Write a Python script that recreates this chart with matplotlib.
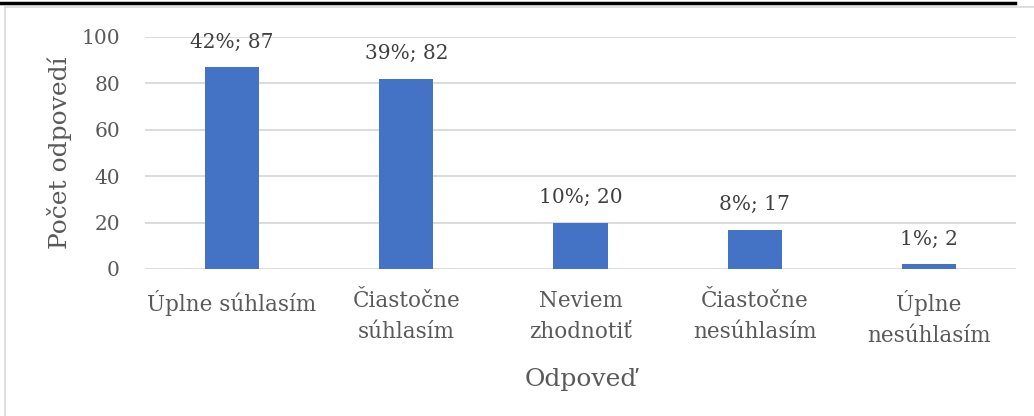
import matplotlib
matplotlib.use("Agg")
import matplotlib.pyplot as plt
from matplotlib.lines import Line2D

plt.rcParams["font.family"] = ["DejaVu Serif"]

categories = ["Úplne súhlasím", "Čiastočne\nsúhlasím", "Neviem\nzhodnotiť",
              "Čiastočne\nnesúhlasím", "Úplne\nnesúhlasím"]
counts = [87, 82, 20, 17, 2]
yticks = [0, 20, 40, 60, 80, 100]

total = sum(counts)
labels = [f"{round(c / total * 100)}%; {c}" for c in counts]

W, H = 1034, 416
fig = plt.figure(figsize=(W / 100, H / 100), dpi=100)
fig.patch.set_facecolor("white")

# ramik grafu + orezana ciara nadpisu
fig.add_artist(Line2D([5 / W, 5 / W], [0, 1 - 7 / H], color="#d9d9d9", lw=1.2))
fig.add_artist(Line2D([5 / W, 1], [1 - 7 / H, 1 - 7 / H], color="#d9d9d9", lw=1.2))
fig.add_artist(Line2D([0, 1015 / W], [1 - 3 / H, 1 - 3 / H], color="black", lw=2.5))

ax = fig.add_axes([145 / W, 1 - 269 / H, (1016 - 145) / W, 232 / H])
x = range(len(categories))
ax.bar(x, counts, width=0.31, color="#4472C4", zorder=3)

for i, (c, lab) in enumerate(zip(counts, labels)):
    ax.annotate(lab, (i, c), xytext=(0, 18), textcoords="offset points",
                ha="center", va="center", fontsize=14.5, color="#404040")

ax.set_xlim(-0.5, len(categories) - 0.5)
ax.set_ylim(0, 100)
ax.set_yticks(yticks)
ax.yaxis.grid(True, color="#d9d9d9", linewidth=1.3, zorder=0)
ax.set_axisbelow(True)
for s in ax.spines.values():
    s.set_visible(False)
ax.tick_params(length=0, labelsize=14.5, colors="#595959")
ax.tick_params(axis="y", pad=18)
ax.tick_params(axis="x", labelsize=15.5, pad=15)
ax.set_xticks(list(x))
ax.set_xticklabels(categories, linespacing=1.55, va="top")

ax.set_xlabel("Odpoveď", fontsize=18, color="#595959", labelpad=15)
ax.set_ylabel("Počet odpovedí", fontsize=18, color="#595959", labelpad=7)

fig.savefig("out.png", dpi=100)
